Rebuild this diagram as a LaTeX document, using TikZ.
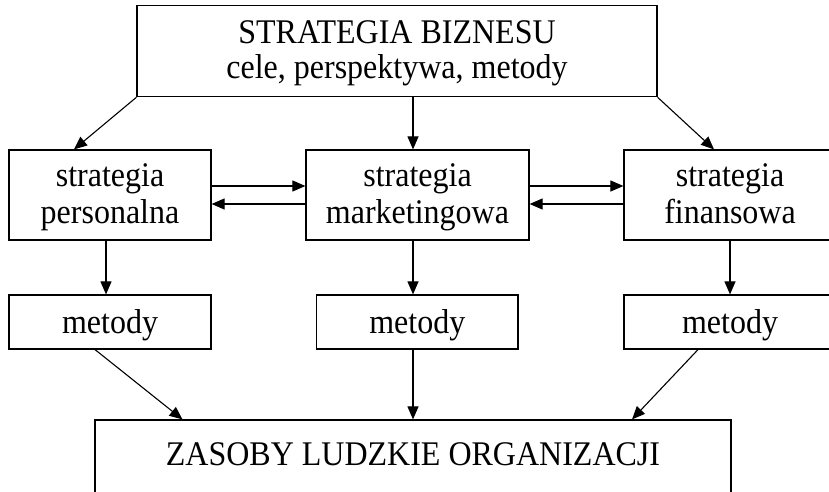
\documentclass[tikz,border=0pt]{standalone}
\usepackage{graphicx}
\usepackage{fontspec}
\setmainfont{Liberation Serif}
\usetikzlibrary{arrows.meta}
\newcommand\talltext[1]{\scalebox{1}[1.08]{#1}}
\tikzset{
  box/.style={draw, line width=1.2pt, inner sep=0pt},
  txt/.style={inner sep=0pt, anchor=base, font=\fontsize{32}{35}\selectfont},
  arr/.style={line width=1.1pt, -{Triangle[length=13pt,width=11pt]}},
}
\begin{document}
\begin{tikzpicture}[x=1pt,y=-1pt]
\useasboundingbox (0,0) rectangle (829,492);
\clip (0,0) rectangle (829,492);
% boxes
\node[box, minimum width=520pt, minimum height=91pt] (top) at (397,51.2) {};
\node[box, minimum width=202pt, minimum height=90pt] (s1) at (110,195) {};
\node[box, minimum width=223pt, minimum height=90pt] (s2) at (417.5,195) {};
\node[box, minimum width=212pt, minimum height=90pt] (s3) at (730,195) {};
\node[box, minimum width=202pt, minimum height=54pt] (m1) at (110,322) {};
\node[box, minimum width=201.5pt, minimum height=54pt] (m2) at (417.25,322) {};
\node[box, minimum width=212pt, minimum height=54pt] (m3) at (730,322) {};
\node[box, minimum width=636pt, minimum height=74pt] (z) at (413,457) {};
% texts
\node[txt] (topa) at ([yshift=7.7pt]top.center) {\talltext{STRATEGIA BIZNESU}};
\node[txt] (topb) at ([yshift=-27.8pt]top.center) {\talltext{cele, perspektywa, metody}};
\node[txt] (s1a) at ([yshift=8.5pt]s1.center) {\talltext{strategia}};
\node[txt] (s1b) at ([yshift=-28pt]s1.center) {\talltext{personalna}};
\node[txt] (s2a) at ([yshift=8.5pt]s2.center) {\talltext{strategia}};
\node[txt] (s2b) at ([yshift=-28pt]s2.center) {\talltext{marketingowa}};
\node[txt] (s3a) at ([yshift=8.5pt]s3.center) {\talltext{strategia}};
\node[txt] (s3b) at ([yshift=-28pt]s3.center) {\talltext{finansowa}};
\node[txt] (m1t) at ([yshift=-11pt]m1.center) {\talltext{metody}};
\node[txt] (m2t) at ([yshift=-11pt]m2.center) {\talltext{metody}};
\node[txt] (m3t) at ([yshift=-11pt]m3.center) {\talltext{metody}};
\node[txt] (zt) at ([yshift=-8.7pt]z.center) {\talltext{ZASOBY LUDZKIE ORGANIZACJI}};
% connectors
\draw[arr] (top.south west) -- ([xshift=-36pt]s1.north);
\draw[arr] ([xshift=16pt]top.south) -- ([xshift=-4.5pt]s2.north);
\draw[arr] (top.south east) -- ([xshift=-16pt]s3.north);
\draw[arr] ([yshift=9pt]s1.east) -- ([yshift=9pt]s2.west);
\draw[arr] ([yshift=-9pt]s2.west) -- ([yshift=-9pt]s1.east);
\draw[arr] ([yshift=9pt]s2.east) -- ([yshift=9pt]s3.west);
\draw[arr] ([yshift=-9pt]s3.west) -- ([yshift=-9pt]s2.east);
\draw[arr] ([xshift=-4pt]s1.south) -- ([xshift=-4pt]m1.north);
\draw[arr] ([xshift=-4.5pt]s2.south) -- ([xshift=-4.25pt]m2.north);
\draw[arr] (s3.south) -- (m3.north);
\draw[arr] ([xshift=-15pt]m1.south) -- ([xshift=-230.5pt]z.north);
\draw[arr] ([xshift=-4.25pt]m2.south) -- (z.north);
\draw[arr] ([xshift=-32pt]m3.south) -- ([xshift=219pt]z.north);
\end{tikzpicture}
\end{document}
